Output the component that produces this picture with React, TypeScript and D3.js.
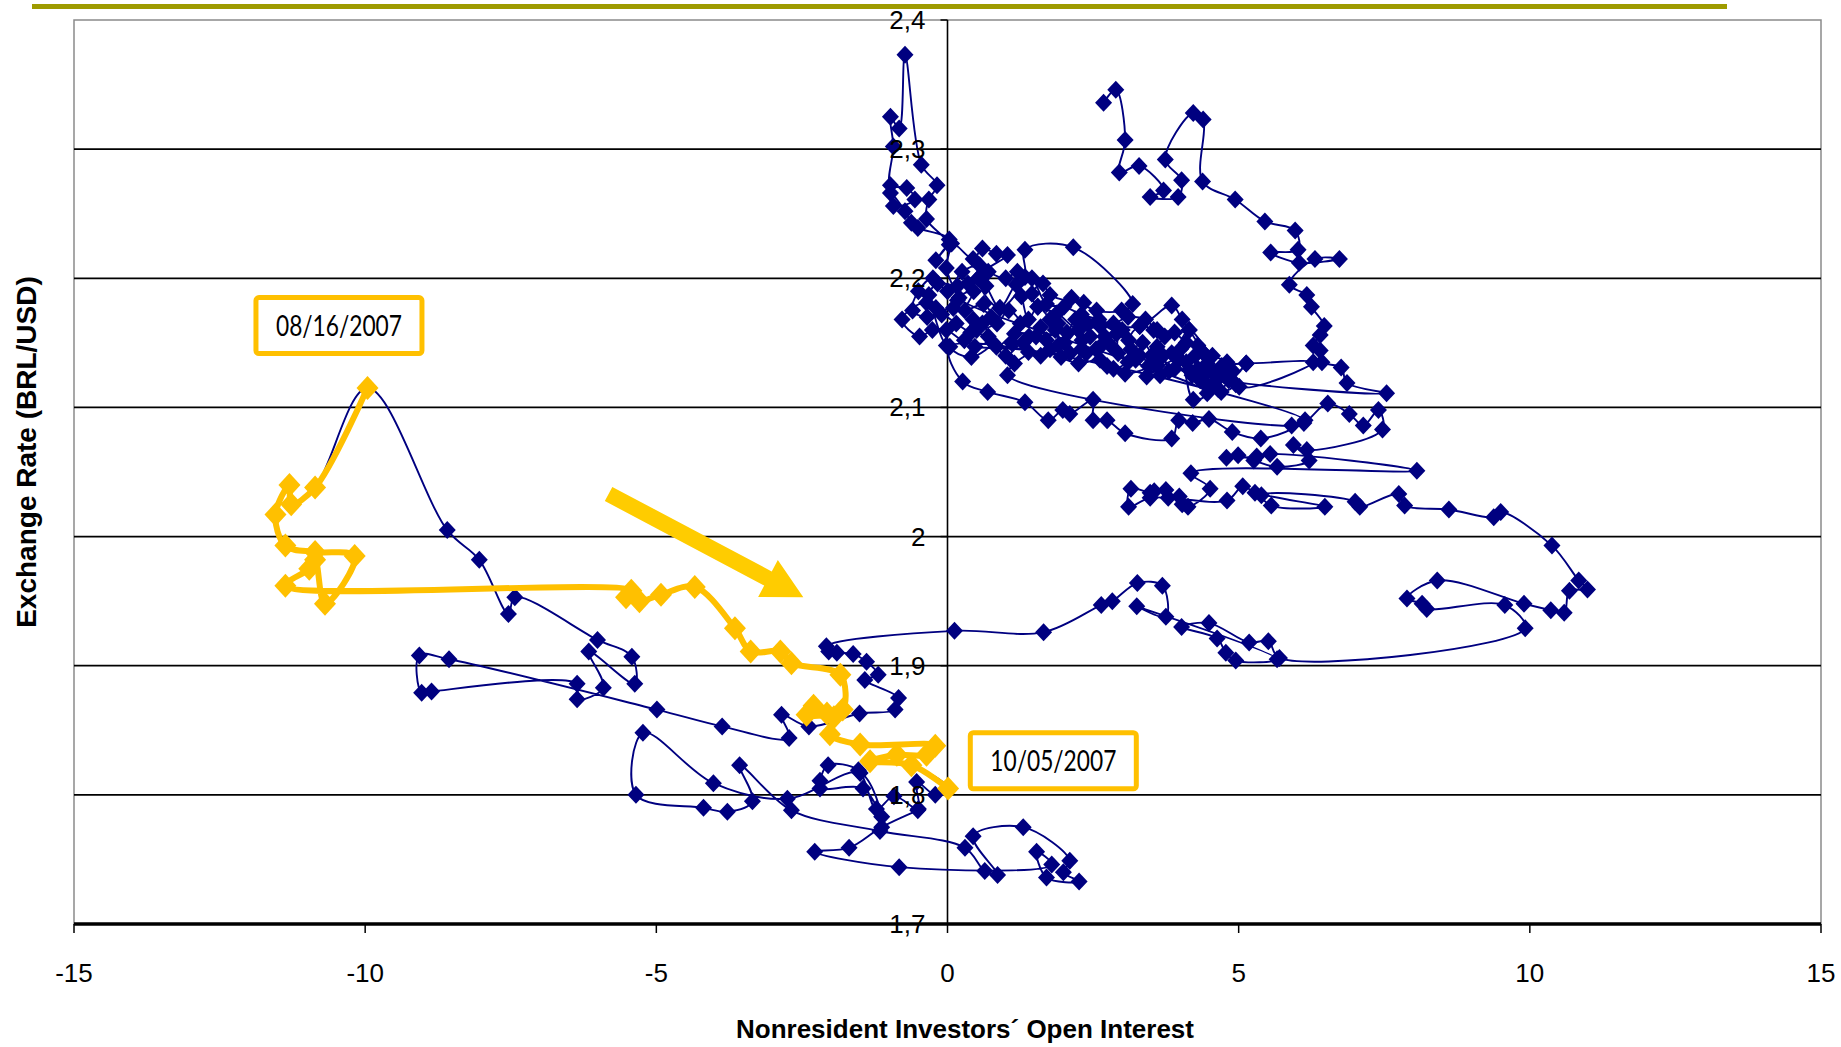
import { useRef, useEffect } from 'react';
import * as d3 from 'd3';

type Pt = [number, number];

const xTicks = [-15, -10, -5, 0, 5, 10, 15];
const yTicks = [1.7, 1.8, 1.9, 2.0, 2.1, 2.2, 2.3, 2.4];
const yTickLabels = ['1,7', '1,8', '1,9', '2', '2,1', '2,2', '2,3', '2,4'];

// blue series in stretches: [open interest, BRL/USD]
const stretchStart: Pt[] = [
  [2.68, 2.336], [2.89, 2.346], [3.05, 2.307], [2.95, 2.282], [3.29, 2.287], [3.71, 2.268],
  [3.48, 2.263], [3.96, 2.263], [4.02, 2.276], [3.74, 2.292], [4.22, 2.328], [4.39, 2.323],
  [4.38, 2.275], [4.94, 2.261], [5.45, 2.244], [5.97, 2.237], [6.02, 2.222], [5.55, 2.22],
  [6.04, 2.212], [6.73, 2.215], [6.31, 2.215], [5.87, 2.195], [6.17, 2.187], [6.25, 2.178],
  [6.47, 2.163], [6.4, 2.156], [6.28, 2.148], [6.4, 2.144], [6.43, 2.135], [6.76, 2.131],
  [6.86, 2.119], [7.54, 2.111],
];

const clusterWest: Pt[] = [
  [4.4, 2.125], [4.71, 2.132], [4.58, 2.126], [4.83, 2.121], [5.13, 2.134], [4.65, 2.114],
  [4.34, 2.121], [4.15, 2.129], [3.97, 2.137], [4.4, 2.142], [4.15, 2.16], [3.85, 2.142],
  [3.6, 2.147], [3.73, 2.155], [3.54, 2.16], [3.3, 2.163], [3.11, 2.152], [3.23, 2.137],
  [2.93, 2.142], [2.9, 2.157], [2.62, 2.163], [2.62, 2.147], [2.38, 2.142], [2.31, 2.152],
  [2.25, 2.16], [2.01, 2.15], [1.85, 2.16], [1.76, 2.168], [1.55, 2.178], [1.39, 2.168],
  [1.27, 2.186], [1.18, 2.195], [0.9, 2.177], [0.66, 2.194], [0.53, 2.2], [0.35, 2.196],
  [0.17, 2.194], [-0.17, 2.196], [-0.32, 2.187], [-0.2, 2.177], [0.1, 2.177], [0.17, 2.183],
  [-0.02, 2.208], [0.03, 2.226],
];

const spike: Pt[] = [
  [-0.36, 2.246], [-0.32, 2.261], [-0.18, 2.272], [-0.45, 2.288], [-0.73, 2.373], [-0.83, 2.316],
  [-0.98, 2.325], [-0.93, 2.302], [-0.98, 2.272], [-0.7, 2.27], [-0.56, 2.261], [-0.93, 2.256],
  [-0.98, 2.266], [-0.73, 2.252], [-0.62, 2.243], [-0.51, 2.239], [0.03, 2.23], [-0.2, 2.214],
  [0.07, 2.227],
];

const clusterEast: Pt[] = [
  [0.44, 2.215], [0.6, 2.223], [0.84, 2.219], [1.03, 2.218], [0.53, 2.2], [0.9, 2.177],
  [1.33, 2.201], [1.33, 2.222], [2.16, 2.224], [3.18, 2.18], [2.99, 2.175], [2.56, 2.175],
  [2.13, 2.185], [2.34, 2.181], [1.76, 2.187], [1.64, 2.196], [1.45, 2.188], [1.55, 2.178],
  [1.88, 2.173], [2.25, 2.16], [2.62, 2.163], [3.3, 2.163], [3.85, 2.179], [4.03, 2.168],
  [4.15, 2.16], [4.4, 2.142], [4.46, 2.134], [5.13, 2.134], [6.28, 2.135], [5.01, 2.116],
];

const clusterMid: Pt[] = [
  [4.8, 2.135], [4.55, 2.14], [4.3, 2.148], [4.1, 2.15], [3.9, 2.158], [3.6, 2.16],
  [3.4, 2.168], [3.1, 2.17], [2.85, 2.165], [2.6, 2.168], [2.3, 2.172], [2.0, 2.178],
  [1.7, 2.18], [1.45, 2.2], [1.2, 2.205], [1.0, 2.2], [0.7, 2.205], [0.55, 2.21],
  [0.25, 2.205], [0.0, 2.19], [-0.25, 2.2], [-0.5, 2.19], [-0.6, 2.175], [-0.35, 2.17],
  [-0.1, 2.172], [0.15, 2.165], [0.4, 2.158], [0.7, 2.155], [1.0, 2.14], [1.3, 2.15],
  [1.6, 2.14], [1.9, 2.148], [2.1, 2.142], [2.3, 2.145], [2.55, 2.145], [2.85, 2.13],
  [3.1, 2.135], [3.3, 2.14], [3.65, 2.125], [3.9, 2.13], [4.2, 2.125], [4.45, 2.118],
  [4.7, 2.112], [4.95, 2.118], [4.9, 2.128], [4.75, 2.125], [4.6, 2.12], [4.5, 2.13],
  [4.3, 2.13], [4.25, 2.14], [4.1, 2.135], [4.0, 2.145], [3.8, 2.128], [3.7, 2.14],
  [3.45, 2.132], [3.5, 2.14], [3.35, 2.15], [3.15, 2.145], [3.0, 2.16], [2.8, 2.148],
  [2.7, 2.155], [2.45, 2.155], [2.4, 2.165], [2.2, 2.168], [2.05, 2.158], [1.9, 2.165],
  [1.7, 2.152], [1.6, 2.162], [1.4, 2.155], [1.1, 2.15], [1.25, 2.165], [1.05, 2.175],
  [0.85, 2.165], [0.5, 2.16], [0.75, 2.17], [0.62, 2.18], [0.3, 2.175], [0.45, 2.19],
  [0.2, 2.185],
];

const clusterReturn: Pt[] = [
  [4.46, 2.111], [4.22, 2.106], [3.97, 2.137], [3.42, 2.124], [3.6, 2.132], [3.05, 2.126],
  [2.74, 2.132], [2.62, 2.137], [2.25, 2.134], [1.95, 2.139], [1.76, 2.145], [1.52, 2.155],
  [1.15, 2.157], [0.84, 2.147], [0.6, 2.165], [0.44, 2.168], [0.29, 2.152], [-0.02, 2.16],
  [-0.26, 2.16], [-0.48, 2.155], [-0.78, 2.168], [-0.36, 2.181], [-0.02, 2.148], [0.41, 2.139],
  [0.78, 2.15], [0.47, 2.147], [1.39, 2.143], [1.15, 2.134], [1.03, 2.125], [5.91, 2.086],
  [6.14, 2.09], [0.04, 2.147], [0.26, 2.12], [0.69, 2.112], [1.33, 2.104], [1.73, 2.09],
  [1.98, 2.098], [2.1, 2.095], [2.5, 2.106], [2.5, 2.09], [2.74, 2.09], [3.05, 2.08],
  [3.85, 2.076], [3.97, 2.09], [4.21, 2.088], [4.49, 2.091], [4.89, 2.081], [5.38, 2.076],
  [6.12, 2.088], [6.53, 2.103], [6.9, 2.095], [7.14, 2.086], [7.4, 2.098], [7.47, 2.083],
  [6.17, 2.067], [5.94, 2.071], [6.21, 2.059], [5.66, 2.054], [5.26, 2.059], [4.99, 2.063],
  [4.79, 2.061], [5.31, 2.062], [5.54, 2.064], [8.06, 2.051],
];

const band2020: Pt[] = [
  [4.18, 2.049], [4.51, 2.037], [4.13, 2.023], [4.03, 2.025], [3.98, 2.031], [3.79, 2.03],
  [3.75, 2.036], [3.55, 2.035], [3.48, 2.034], [3.15, 2.037], [3.11, 2.023], [3.48, 2.03],
  [4.8, 2.028], [5.07, 2.039], [5.28, 2.034], [6.48, 2.023], [5.56, 2.024], [5.39, 2.032],
  [7.0, 2.027], [7.08, 2.023], [7.75, 2.033], [7.85, 2.024], [8.61, 2.021], [9.38, 2.015],
  [9.5, 2.019], [10.38, 1.993], [10.84, 1.966], [10.99, 1.959], [10.68, 1.958], [10.59, 1.941],
  [10.36, 1.943], [9.9, 1.948], [8.41, 1.966], [7.89, 1.952], [8.15, 1.948], [8.23, 1.944],
  [9.57, 1.947], [9.92, 1.929],
];

const band1950: Pt[] = [
  [5.7, 1.906], [5.51, 1.919], [5.18, 1.918], [4.49, 1.933], [4.02, 1.93], [4.63, 1.921],
  [4.78, 1.91], [4.95, 1.904], [5.66, 1.905], [3.25, 1.946], [3.75, 1.938], [3.69, 1.962],
  [3.26, 1.964], [2.83, 1.95], [2.64, 1.947], [1.65, 1.926], [0.12, 1.927],
];

const westLoop: Pt[] = [
  [-2.08, 1.915], [-2.04, 1.911], [-1.9, 1.91], [-1.62, 1.909], [-1.39, 1.903], [-1.19, 1.893],
  [-1.42, 1.889], [-0.84, 1.875], [-0.9, 1.866], [-1.51, 1.863], [-2.38, 1.853], [-2.85, 1.862],
  [-2.72, 1.844], [-3.87, 1.853], [-4.99, 1.866], [-8.56, 1.905], [-9.07, 1.908], [-9.03, 1.879],
  [-8.86, 1.88], [-6.36, 1.886], [-6.36, 1.874], [-5.91, 1.883], [-6.16, 1.911], [-5.37, 1.886],
  [-5.42, 1.907], [-6.01, 1.92], [-7.43, 1.953], [-7.54, 1.94], [-8.04, 1.982], [-8.59, 2.005],
];

// yellow: 08/16/2007 -> 10/05/2007
const stressPeriod: Pt[] = [
  [-9.96, 2.115], [-10.86, 2.038], [-11.27, 2.025], [-11.3, 2.04], [-11.54, 2.017], [-11.37, 1.993],
  [-10.86, 1.988], [-10.18, 1.985], [-10.69, 1.948], [-10.86, 1.982], [-10.96, 1.975], [-11.37, 1.962],
  [-5.43, 1.958], [-5.52, 1.953], [-5.29, 1.95], [-4.92, 1.955], [-4.34, 1.961], [-3.65, 1.929],
  [-3.38, 1.911], [-2.87, 1.911], [-2.68, 1.902], [-1.84, 1.893], [-1.8, 1.866], [-2.07, 1.863],
  [-2.3, 1.869], [-2.42, 1.862], [-1.95, 1.86], [-2.02, 1.847], [-1.5, 1.839], [-0.21, 1.838],
  [-0.36, 1.831], [-0.87, 1.831], [-1.33, 1.826], [-0.62, 1.823], [0.01, 1.805],
];

const tail: Pt[] = [
  [-0.21, 1.8], [-0.53, 1.81], [-0.5, 1.789], [-0.92, 1.799], [-1.22, 1.789], [-1.53, 1.819],
  [-2.05, 1.823], [-2.19, 1.811], [-2.19, 1.805], [-1.45, 1.805], [-1.13, 1.783], [-1.5, 1.817],
  [-2.75, 1.797], [-4.02, 1.809], [-5.23, 1.848], [-5.35, 1.8], [-4.19, 1.79], [-3.78, 1.787],
  [-3.35, 1.795], [-3.57, 1.823], [-2.68, 1.788], [-1.16, 1.772], [0.3, 1.759], [0.64, 1.741],
  [0.86, 1.738], [0.44, 1.768], [1.3, 1.775], [2.1, 1.749], [1.99, 1.74], [2.26, 1.733],
  [1.7, 1.736], [1.53, 1.756], [1.79, 1.746], [-0.83, 1.744], [-2.28, 1.756], [-1.69, 1.759],
  [-1.13, 1.775], [-0.51, 1.788],
];

const blueSeries: Pt[] = [
  ...stretchStart, ...clusterWest, ...spike, ...clusterEast, ...clusterMid, ...clusterReturn,
  ...band2020, ...band1950, ...westLoop, ...stressPeriod, ...tail,
];

const notes = [
  { label: '08/16/2007', x: -10.45, y: 2.1634 },
  { label: '10/05/2007', x: 1.817, y: 1.8264 },
];
const arrowFrom: Pt = [-5.82, 2.033];
const arrowTo: Pt = [-2.476, 1.953];

const navy = '#000080';
const gold = '#FFC000';

function App() {
  const svgRef = useRef(null);
  const width = 1841;
  const height = 1047;

  useEffect(() => {
    const svg = d3.select(svgRef.current);
    svg.selectAll('*').remove();
    const margin = { top: 20, right: 20, bottom: 123, left: 74 };

    const x = d3.scaleLinear().domain([-15, 15]).range([margin.left, width - margin.right]);
    const y = d3.scaleLinear().domain([1.7, 2.4]).range([height - margin.bottom, margin.top]);
    const x0 = x(0);

    svg.append('rect').attr('width', width).attr('height', height).attr('fill', '#fff');

    // olive rule above the chart
    svg.append('rect')
      .attr('x', 32).attr('y', 4).attr('width', 1695).attr('height', 5)
      .attr('fill', '#9e9b00');

    svg.append('rect')
      .attr('x', margin.left).attr('y', margin.top)
      .attr('width', width - margin.left - margin.right)
      .attr('height', height - margin.top - margin.bottom)
      .attr('fill', 'none').attr('stroke', '#8a8a8a').attr('stroke-width', 1.5);

    svg.append('g')
      .selectAll('line')
      .data(yTicks.filter((t) => t > 1.75 && t < 2.35))
      .join('line')
      .attr('x1', margin.left).attr('x2', width - margin.right)
      .attr('y1', (d) => y(d)).attr('y2', (d) => y(d))
      .attr('stroke', '#000').attr('stroke-width', 1.8);

    svg.append('line')
      .attr('x1', x0).attr('x2', x0).attr('y1', margin.top).attr('y2', y(1.7))
      .attr('stroke', '#000').attr('stroke-width', 1.6);
    svg.append('g')
      .selectAll('line')
      .data(yTicks)
      .join('line')
      .attr('x1', x0 - 7).attr('x2', x0)
      .attr('y1', (d) => y(d)).attr('y2', (d) => y(d))
      .attr('stroke', '#000').attr('stroke-width', 1.5);

    svg.append('line')
      .attr('x1', margin.left).attr('x2', width - margin.right)
      .attr('y1', y(1.7)).attr('y2', y(1.7))
      .attr('stroke', '#000').attr('stroke-width', 3.5);
    svg.append('g')
      .selectAll('line')
      .data(xTicks)
      .join('line')
      .attr('x1', (d) => x(d)).attr('x2', (d) => x(d))
      .attr('y1', y(1.7)).attr('y2', y(1.7) + 9)
      .attr('stroke', '#000').attr('stroke-width', 1.5);

    const line = d3.line<Pt>()
      .x((d) => x(d[0]))
      .y((d) => y(d[1]))
      .curve(d3.curveCatmullRom.alpha(0.5));

    svg.append('path')
      .datum(blueSeries)
      .attr('fill', 'none').attr('stroke', navy).attr('stroke-width', 1.9)
      .attr('d', line);

    svg.append('g')
      .selectAll('path')
      .data(blueSeries)
      .join('path')
      .attr('d', 'M0,-9L8.5,0L0,9L-8.5,0Z')
      .attr('transform', (d) => `translate(${x(d[0])},${y(d[1])})`)
      .attr('fill', navy);

    svg.append('path')
      .datum(stressPeriod)
      .attr('fill', 'none').attr('stroke', gold).attr('stroke-width', 6)
      .attr('stroke-linejoin', 'round')
      .attr('d', line);

    svg.append('g')
      .selectAll('path')
      .data(stressPeriod)
      .join('path')
      .attr('d', 'M0,-12L11,0L0,12L-11,0Z')
      .attr('transform', (d) => `translate(${x(d[0])},${y(d[1])})`)
      .attr('fill', gold);

    // block arrow
    const p0 = [x(arrowFrom[0]), y(arrowFrom[1])];
    const p1 = [x(arrowTo[0]), y(arrowTo[1])];
    const len = Math.hypot(p1[0] - p0[0], p1[1] - p0[1]);
    const u = [(p1[0] - p0[0]) / len, (p1[1] - p0[1]) / len];
    const n = [-u[1], u[0]];
    const base = [p1[0] - u[0] * 40, p1[1] - u[1] * 40];
    const at = (p: number[], k: number) => [p[0] + n[0] * k, p[1] + n[1] * k];
    const arrowPts = [at(p0, 8), at(base, 8), at(base, 21), p1, at(base, -21), at(base, -8), at(p0, -8)];
    svg.append('polygon')
      .attr('points', arrowPts.map((p) => p.join(',')).join(' '))
      .attr('fill', '#FFCC00');

    const note = svg.append('g')
      .selectAll('g')
      .data(notes)
      .join('g')
      .attr('transform', (d) => `translate(${x(d.x)},${y(d.y)})`);
    note.append('rect')
      .attr('x', -83).attr('y', -28).attr('width', 166).attr('height', 56).attr('rx', 3)
      .attr('fill', '#fff').attr('stroke', gold).attr('stroke-width', 5);
    note.append('text')
      .attr('text-anchor', 'middle').attr('y', 10)
      .attr('textLength', 126).attr('lengthAdjust', 'spacingAndGlyphs')
      .style('font', '28px Lato, "Open Sans", sans-serif')
      .attr('fill', '#000')
      .text((d) => d.label);

    const tickFont = '26px "Liberation Sans Narrow", "Arial Narrow", "Liberation Sans", Arial, sans-serif';
    svg.append('g')
      .selectAll('text')
      .data(xTicks)
      .join('text')
      .attr('x', (d) => x(d)).attr('y', 982)
      .attr('text-anchor', 'middle')
      .style('font', tickFont)
      .text((d) => String(d));

    svg.append('g')
      .selectAll('text')
      .data(yTicks)
      .join('text')
      .attr('x', x0 - 22).attr('y', (d) => y(d) + 9)
      .attr('text-anchor', 'end')
      .style('font', tickFont)
      .text((d, i) => yTickLabels[i]);

    svg.append('text')
      .attr('x', 965).attr('y', 1038)
      .attr('text-anchor', 'middle')
      .style('font', 'bold 26px "Liberation Sans", Arial, sans-serif')
      .text('Nonresident Investors´ Open Interest');

    svg.append('text')
      .attr('transform', `translate(36,452) rotate(-90)`)
      .attr('text-anchor', 'middle')
      .style('font', 'bold 28px "Liberation Sans", Arial, sans-serif')
      .text('Exchange Rate (BRL/USD)');
  }, []);

  return (
    <svg
      ref={svgRef}
      width={width}
      height={height}
      style={{ position: 'absolute', left: 0, top: 0, display: 'block' }}
    ></svg>
  );
}

export default App;
